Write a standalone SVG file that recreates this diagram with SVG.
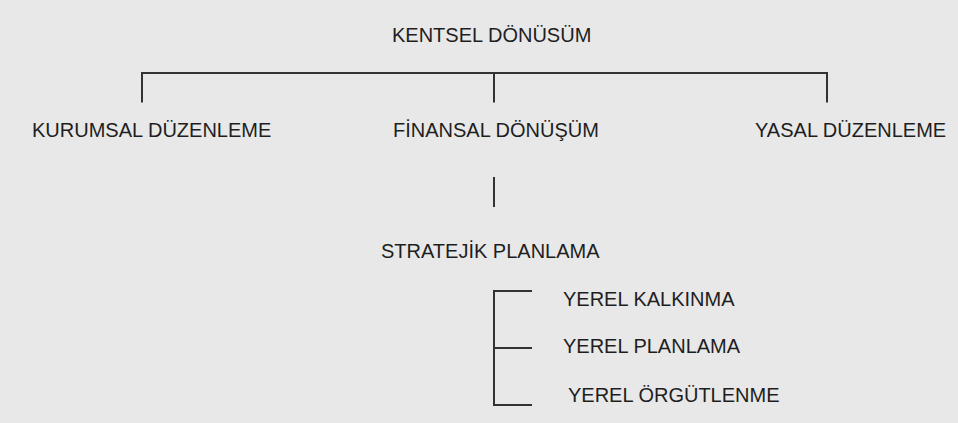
<svg xmlns="http://www.w3.org/2000/svg" width="958" height="423" viewBox="0 0 958 423">
<style>
.t{font-family:"Liberation Sans",Arial,sans-serif;font-size:20px;fill:#1e1e1e}
.c{stroke:#333;stroke-width:2;fill:none}
</style>
<rect x="0" y="0" width="958" height="423" fill="#e8e8e8"/>
<g id="connectors">
<path class="c" d="M142 102.5V73H827V102.5M494 73V102.5"/>
<path class="c" d="M494 177V207"/>
<path class="c" d="M532 291H494V405H532M494 348H532"/>
</g>
<g id="kentsel-donusum"><text class="t" x="392" y="42">KENTSEL DÖNÜSÜM</text></g>
<g id="kurumsal-duzenleme"><text class="t" x="32" y="137">KURUMSAL DÜZENLEME</text></g>
<g id="finansal-donusum"><text class="t" x="393" y="137">FİNANSAL DÖNÜŞÜM</text></g>
<g id="yasal-duzenleme"><text class="t" x="755" y="137">YASAL DÜZENLEME</text></g>
<g id="stratejik-planlama"><text class="t" x="381" y="258">STRATEJİK PLANLAMA</text></g>
<g id="yerel-kalkinma"><text class="t" x="563" y="306">YEREL KALKINMA</text></g>
<g id="yerel-planlama"><text class="t" x="563" y="353">YEREL PLANLAMA</text></g>
<g id="yerel-orgutlenme"><text class="t" x="568" y="402">YEREL ÖRGÜTLENME</text></g>
</svg>
